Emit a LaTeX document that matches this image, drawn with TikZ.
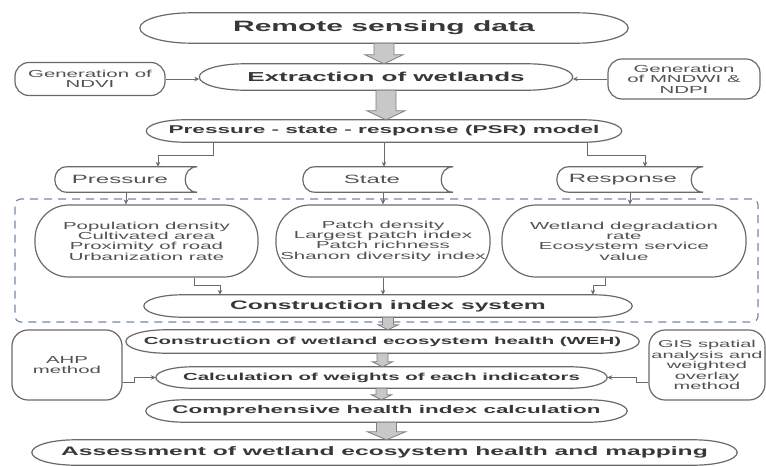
\documentclass[tikz,border=0pt]{standalone}
\usepackage{fontspec}
\setmainfont[FakeStretch=2.0]{Liberation Sans}
\usetikzlibrary{calc,arrows.meta}

\definecolor{txtgray}{HTML}{525252}
\definecolor{linegray}{HTML}{6A6A6A}
\definecolor{arrowfill}{HTML}{C8C8C8}
\definecolor{dashblue}{HTML}{7389AA}

\newcommand{\fsz}[2]{\fontsize{#1}{#2}\selectfont}

% grey block arrow from the bottom of #1 to the top of #2
\newcommand{\blockarrow}[5]{%
  \draw[blockarr] let \p1=(#1.south), \p2=(#2.north) in
    (\x1-#3,\y1) -- (\x1-#3,\y2+#5) -- (\x1-#4,\y2+#5) -- (\x1,\y2)
    -- (\x1+#4,\y2+#5) -- (\x1+#3,\y2+#5) -- (\x1+#3,\y1) -- cycle;}

\tikzset{
  txt/.style={inner sep=0pt, text=txtgray, align=center},
  oval/.style={txt, text=black!78},
  tape/.style={txt},
  rbox/.style={txt, draw=linegray, line width=1.2pt, rounded corners=#1},
  outline/.style={draw=linegray, line width=1.2pt},
  conn/.style={draw=linegray, line width=0.9pt, -{Stealth[length=5pt,width=4.5pt]}},
  blockarr/.style={fill=arrowfill, draw=gray, line width=0.8pt},
  dashbox/.style={draw=dashblue, line width=1.2pt, dash pattern=on 8pt off 6pt, rounded corners=6pt},
}

\begin{document}
\begin{tikzpicture}[x=1pt,y=-1pt]
\fill[white] (0,0) rectangle (766,466);
\useasboundingbox (0,0) rectangle (766,466);

% dashed group round the index system
\node[dashbox, minimum width=743pt, minimum height=123pt] (group) at (386.5,260.5) {};

\node[oval, minimum width=488pt, minimum height=30pt, font=\bfseries\fsz{15}{16}] (remote) at (384,28) {Remote sensing data};
\node[oval, minimum width=373pt, minimum height=26pt, font=\bfseries\fsz{13}{14}] (extract) at (386,77) {Extraction of wetlands};
\node[rbox=14pt, minimum width=150pt, minimum height=33pt, font=\fsz{10.2}{10.5}] (ndvi) at (90,79) {Generation of\\NDVI};
\node[rbox=14pt, minimum width=152pt, minimum height=40pt, font=\fsz{10.2}{10.5}] (mndwi) at (684,79) {Generation\\of MNDWI \&\\NDPI};
\node[oval, minimum width=475pt, minimum height=22pt, font=\bfseries\fsz{11.3}{12}] (psr) at (384,131) {Pressure - state - response (PSR) model};

\node[tape, minimum width=142pt, minimum height=25pt, font=\fsz{12}{13}] (pressure) at (126,179.5) {Pressure\hspace*{12pt}};
\node[tape, minimum width=150pt, minimum height=25pt, font=\fsz{12}{13}] (state) at (378,179.5) {State\hspace*{12pt}};
\node[tape, minimum width=146pt, minimum height=25pt, font=\fsz{12}{13}] (response) at (630,179.5) {Response\hspace*{14pt}};

\node[rbox=34pt, minimum width=223pt, minimum height=72pt, font=\fsz{10.2}{10.4}] (pop) at (146.5,241) {Population density\\Cultivated area\\Proximity of road\\Urbanization rate};
\node[rbox=34pt, minimum width=214pt, minimum height=72pt, font=\fsz{10.2}{10.4}] (stat) at (383,241) {Patch density\\Largest patch index\\Patch richness\\Shanon diversity index};
\node[rbox=34pt, minimum width=244pt, minimum height=72pt, font=\fsz{10.2}{10.4}] (resp) at (624,241) {Wetland degradation\\rate\\Ecosystem service\\value};

\node[oval, minimum width=488pt, minimum height=22pt, font=\bfseries\fsz{12.3}{13}] (cis) at (388,306) {Construction index system};
\node[oval, minimum width=513pt, minimum height=23pt, font=\bfseries\fsz{10.2}{11}] (weh) at (382.5,341.5) {Construction of wetland ecosystem health (WEH)};
\node[oval, minimum width=451pt, minimum height=21pt, font=\bfseries\fsz{10.2}{11}] (calc) at (381.5,377.5) {Calculation of weights of each indicators};
\node[oval, minimum width=481pt, minimum height=22pt, font=\bfseries\fsz{11.2}{12}] (comp) at (386.5,411) {Comprehensive health index calculation};
\node[oval, minimum width=705pt, minimum height=25pt, font=\bfseries\fsz{12.3}{13}] (assess) at (384.5,452.5) {Assessment of wetland ecosystem health and mapping};

\node[rbox=16pt, minimum width=110pt, minimum height=70pt, font=\fsz{10.2}{10.5}] (ahp) at (67,365) {AHP\\method};
\node[rbox=16pt, minimum width=116pt, minimum height=70pt, font=\fsz{10}{10.5}] (gis) at (707,365) {GIS spatial\\analysis and\\weighted\\overlay\\method};

% outlines of the ovals and the tapes
\foreach \nd in {remote,extract,psr,cis,weh,calc,comp,assess}
  \draw[outline] let \p1=(\nd.south west), \p2=(\nd.north east), \n1={(\y2-\y1)/2}, \n2={3.4*\n1} in
    (\x1+\n2,\y2) -- (\x2-\n2,\y2) arc[start angle=90, end angle=-90, x radius=\n2, y radius=\n1]
    -- (\x1+\n2,\y1) arc[start angle=270, end angle=90, x radius=\n2, y radius=\n1] -- cycle;
\foreach \nd in {pressure,state,response}
  \draw[outline] let \p1=(\nd.south west), \p2=(\nd.north east) in
    (\x2,\y2) -- (\x1+12pt,\y2) .. controls (\x1-4pt,\y2) and (\x1-4pt,\y1) .. (\x1+12pt,\y1)
    -- (\x2,\y1) .. controls (\x2-16pt,\y1) and (\x2-16pt,\y2) .. cycle;

\draw[conn] (ndvi.east) -- (ndvi.east -| extract.west);
\draw[conn] (mndwi.west) -- (mndwi.west -| extract.east);

\draw[conn] ([xshift=-171pt]psr.south) -- ++(0,13) -| ([xshift=32pt]pressure.north);
\draw[conn] (psr.south) -- (psr.south |- state.north);
\draw[conn] ([xshift=203pt]psr.south) -- ++(0,13) -| ([xshift=15pt]response.north);

\draw[conn] (pressure.south) -- (pressure.south |- pop.north);
\draw[conn] (stat.north |- state.south) -- (stat.north);
\draw[conn] (response.south) -- (response.south |- resp.north);

\draw[conn] ([xshift=47.5pt]pop.south) -- ++(0,8) -| ([xshift=-168pt]cis.north);
\draw[conn] (stat.south) -- (stat.south |- cis.north);
\draw[conn] ([xshift=-19pt]resp.south) -- ++(0,8) -| ([xshift=205pt]cis.north);

\draw[conn] ([yshift=-17pt]ahp.east) -- ++(12,0) |- (calc.west);
\draw[conn] ([yshift=-17pt]gis.west) -- ++(-12,0) |- (calc.east);

\blockarrow{remote}{extract}{10pt}{19pt}{9pt}
\blockarrow{extract}{psr}{10pt}{19pt}{9pt}
\blockarrow{cis}{weh}{5.5pt}{10pt}{5pt}
\blockarrow{weh}{calc}{5.5pt}{10pt}{5pt}
\blockarrow{calc}{comp}{5.5pt}{10pt}{5pt}
\blockarrow{comp}{assess}{10pt}{19pt}{8pt}
\end{tikzpicture}
\end{document}
